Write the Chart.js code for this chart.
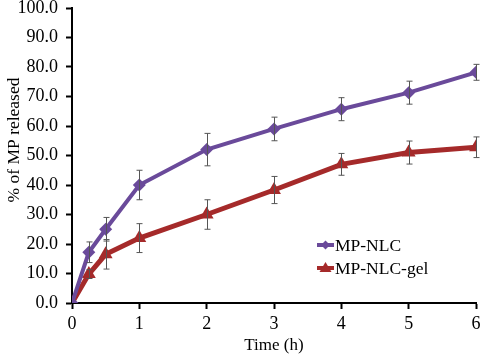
<!DOCTYPE html>
<html>
<head>
<meta charset="utf-8">
<script src="https://cdn.jsdelivr.net/npm/chart.js@4.4.0/dist/chart.umd.min.js"></script>
<style>
  html, body { margin: 0; padding: 0; background: #fff; }
  #wrap { width: 484px; height: 358px; }
</style>
</head>
<body>
<div id="wrap"><canvas id="chart"></canvas></div>
<script>
// release data
const times = [0, 0.25, 0.5, 1, 2, 3, 4, 5, 6];
const nlc = [0, 17.2, 25, 40, 52, 59, 65.7, 71.3, 78.2];
const nlcErr = [0, 3.5, 4, 5, 5.5, 4, 3.9, 3.9, 2.7];
const gel = [0, 9.8, 16.5, 22, 30, 38.3, 47, 51, 52.8];
const gelErr = [0, 1.5, 5, 4.9, 5, 4.6, 3.7, 3.9, 3.5];
const seriesNames = ['MP-NLC', 'MP-NLC-gel'];
const yTitle = '% of MP released';
const xTitle = 'Time (h)';

const FONT = '"Liberation Serif", "Times New Roman", serif';
const purple = '#6a4a9a';
const red = '#a52a2a';

const toPoints = (ys) => times.map((t, i) => ({ x: t, y: ys[i] }));

// error bars + legend + y title
const extras = {
  id: 'extras',
  afterDatasetsDraw(chart) {
    const { ctx, scales: { x, y } } = chart;
    const errs = [nlcErr, gelErr];
    ctx.save();
    ctx.strokeStyle = '#555';
    ctx.lineWidth = 1;
    chart.data.datasets.forEach((ds, di) => {
      ds.data.forEach((p, i) => {
        const e = errs[di][i];
        if (!e) return;
        const px = Math.round(x.getPixelForValue(p.x)) + 0.5;
        const top = y.getPixelForValue(p.y + e);
        const bot = y.getPixelForValue(p.y - e);
        ctx.beginPath();
        ctx.moveTo(px, top); ctx.lineTo(px, bot);
        ctx.moveTo(px - 3, top); ctx.lineTo(px + 3, top);
        ctx.moveTo(px - 3, bot); ctx.lineTo(px + 3, bot);
        ctx.stroke();
      });
    });
    ctx.restore();
  },
  afterDraw(chart) {
    const { ctx } = chart;
    ctx.save();
    // legend
    const lx = 317, rows = [245, 268];
    chart.data.datasets.forEach((ds, i) => {
      const ly = rows[i];
      ctx.strokeStyle = ds.borderColor;
      ctx.lineWidth = 4;
      ctx.beginPath();
      ctx.moveTo(lx, ly); ctx.lineTo(lx + 17, ly);
      ctx.stroke();
      ctx.fillStyle = ds.borderColor;
      const cx = lx + 8.5;
      ctx.beginPath();
      if (i === 0) {
        ctx.moveTo(cx, ly - 4.5); ctx.lineTo(cx + 4.5, ly); ctx.lineTo(cx, ly + 4.5); ctx.lineTo(cx - 4.5, ly);
      } else {
        ctx.moveTo(cx, ly - 6); ctx.lineTo(cx + 6, ly + 4); ctx.lineTo(cx - 6, ly + 4);
      }
      ctx.closePath();
      ctx.fill();
      ctx.fillStyle = '#000';
      ctx.font = '17.5px ' + FONT;
      ctx.textBaseline = 'middle';
      ctx.textAlign = 'left';
      ctx.fillText(ds.label, lx + 18, ly + 1);
    });
    // rotated y axis title
    ctx.translate(14, 140);
    ctx.rotate(-Math.PI / 2);
    ctx.font = '17.5px ' + FONT;
    ctx.textAlign = 'center';
    ctx.textBaseline = 'middle';
    ctx.fillStyle = '#000';
    ctx.fillText(yTitle, 0, 0);
    ctx.restore();
  }
};

new Chart(document.getElementById('chart'), {
  type: 'line',
  data: {
    datasets: [
      {
        label: seriesNames[0],
        data: toPoints(nlc),
        borderColor: purple,
        backgroundColor: purple,
        borderWidth: 4,
        pointStyle: 'rectRot',
        pointRadius: 6.5,
        pointBorderWidth: 0,
        tension: 0
      },
      {
        label: seriesNames[1],
        data: toPoints(gel),
        borderColor: red,
        backgroundColor: red,
        borderWidth: 5,
        pointStyle: 'triangle',
        pointRadius: 8,
        pointBorderWidth: 0,
        tension: 0
      }
    ]
  },
  options: {
    responsive: true,
    maintainAspectRatio: false,
    animation: false,
    layout: { padding: { left: 0, right: 8, top: 6, bottom: 0 } },
    plugins: {
      legend: { display: false },
      tooltip: { enabled: false }
    },
    scales: {
      x: {
        type: 'linear',
        min: 0, max: 6,
        afterFit: s => { s.height = 55; s.paddingRight = 0; s.paddingLeft = 0; },
        ticks: { stepSize: 1, color: '#000', font: { family: FONT, size: 18 }, padding: 4 },
        grid: { drawOnChartArea: false, tickLength: 6, tickColor: '#000', tickWidth: 2 },
        border: { color: '#000', width: 2 },
        title: { display: true, text: xTitle, color: '#000', font: { family: FONT, size: 17 }, padding: { top: 0, bottom: 2 } }
      },
      y: {
        min: 0, max: 100,
        afterFit: s => { s.width = 72; s.paddingTop = 0; s.paddingBottom = 0; },
        ticks: { stepSize: 10, color: '#000', font: { family: FONT, size: 18 }, padding: 8, callback: v => v.toFixed(1) },
        grid: { drawOnChartArea: false, tickLength: 6, tickColor: '#000', tickWidth: 2 },
        border: { color: '#000', width: 2 }
      }
    }
  },
  plugins: [extras]
});
</script>
</body>
</html>
